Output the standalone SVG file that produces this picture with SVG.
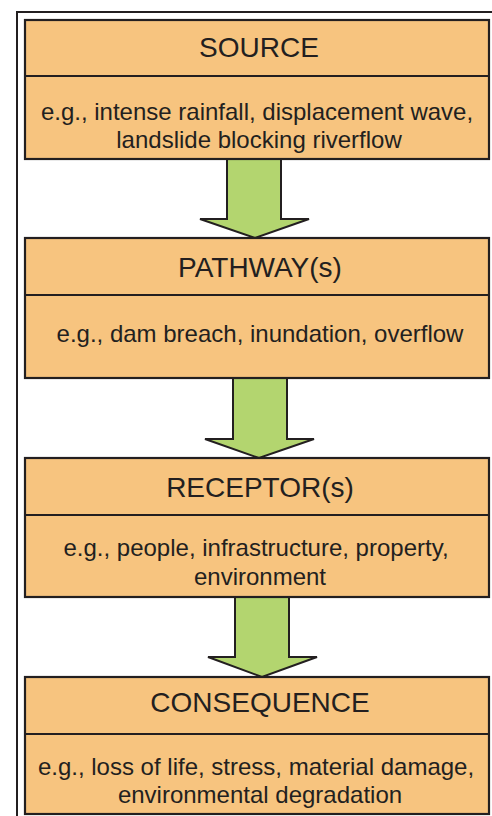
<svg xmlns="http://www.w3.org/2000/svg" width="492" height="816" viewBox="0 0 492 816">
<style>
.frame{fill:none;stroke:#231f20;stroke-width:2}
.box{fill:#f7c47f;stroke:#231f20;stroke-width:2.2}
.div{stroke:#231f20;stroke-width:2.2}
.arr{fill:#b3d56f;stroke:#231f20;stroke-width:2;stroke-linejoin:miter}
.h{font-family:"Liberation Sans",Arial,sans-serif;font-size:28px;fill:#231f20;text-anchor:middle}
.b{font-family:"Liberation Sans",Arial,sans-serif;font-size:24px;fill:#231f20;text-anchor:middle}
</style>
<rect x="0" y="0" width="492" height="816" fill="#ffffff"/>
<rect class="frame" x="17" y="12" width="490" height="820"/>
<g id="connectors">
<polygon class="arr" points="227,159 281,159 281,219 309,219 255,238 200,219 227,219"/>
<polygon class="arr" points="233,378 287,378 287,439 314,439 259,458 205,439 233,439"/>
<polygon class="arr" points="235,597 289,597 289,657 317,657 262,677 208,657 235,657"/>
</g>
<g id="source">
<rect class="box" x="25" y="20" width="464" height="139"/>
<line class="div" x1="25" y1="76" x2="489" y2="76"/>
<text class="h" x="259" y="57">SOURCE</text>
<text class="b" x="257" y="120">e.g., intense rainfall, displacement wave,</text>
<text class="b" x="259" y="148">landslide blocking riverflow</text>
</g>
<g id="pathway">
<rect class="box" x="25" y="238" width="464" height="140"/>
<line class="div" x1="25" y1="295" x2="489" y2="295"/>
<text class="h" x="260" y="277">PATHWAY(s)</text>
<text class="b" x="260" y="342">e.g., dam breach, inundation, overflow</text>
</g>
<g id="receptor">
<rect class="box" x="25" y="458" width="464" height="139"/>
<line class="div" x1="25" y1="515" x2="489" y2="515"/>
<text class="h" x="260" y="497">RECEPTOR(s)</text>
<text class="b" x="256" y="556">e.g., people, infrastructure, property,</text>
<text class="b" x="260" y="585">environment</text>
</g>
<g id="consequence">
<rect class="box" x="25" y="677" width="464" height="137"/>
<line class="div" x1="25" y1="734" x2="489" y2="734"/>
<text class="h" x="260" y="712">CONSEQUENCE</text>
<text class="b" x="256" y="775">e.g., loss of life, stress, material damage,</text>
<text class="b" x="260" y="803">environmental degradation</text>
</g>
</svg>
